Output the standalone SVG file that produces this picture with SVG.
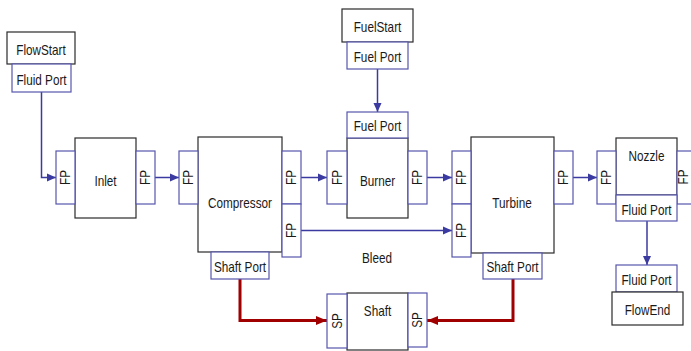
<svg xmlns="http://www.w3.org/2000/svg" width="691" height="351" viewBox="0 0 691 351">
<defs>
<style>
.box{fill:#fff;stroke:#2a2a2a;stroke-width:1.2}
.port{fill:#fff;stroke:#5656ae;stroke-width:1.2}
text{font-family:"Liberation Sans",Arial,sans-serif;font-size:14px;fill:#1a1a1a;text-anchor:middle}
.fp{dominant-baseline:central}
.flow{fill:none;stroke:#3a3aa0;stroke-width:1.5}
.shaft{fill:none;stroke:#a00000;stroke-width:3}
</style>
<marker id="ab" markerUnits="userSpaceOnUse" markerWidth="10" markerHeight="10" refX="9" refY="5" orient="auto">
<path d="M0,1 L9,5 L0,9 Z" fill="#3a3aa0"/>
</marker>
<marker id="ar" markerUnits="userSpaceOnUse" markerWidth="12" markerHeight="12" refX="11" refY="6" orient="auto">
<path d="M0,1.5 L11,6 L0,10.5 Z" fill="#a00000"/>
</marker>
</defs>
<rect width="691" height="351" fill="#fff"/>

<g id="connectors">
<path class="flow" d="M41.5,92 V177.5 H56" marker-end="url(#ab)"/>
<path class="flow" d="M155,177.5 H179" marker-end="url(#ab)"/>
<path class="flow" d="M301,177.5 H327" marker-end="url(#ab)"/>
<path class="flow" d="M301,230.5 H452" marker-end="url(#ab)"/>
<path class="flow" d="M427,177.5 H452" marker-end="url(#ab)"/>
<path class="flow" d="M573,177.5 H597" marker-end="url(#ab)"/>
<path class="flow" d="M377.5,69 V112" marker-end="url(#ab)"/>
<path class="flow" d="M647,221 V265" marker-end="url(#ab)"/>
<path class="shaft" d="M240,279 V320.5 H327" marker-end="url(#ar)"/>
<path class="shaft" d="M513,279 V320.5 H427" marker-end="url(#ar)"/>
<text transform="translate(377,262.5) scale(0.84,1)">Bleed</text>
</g>

<g id="FlowStart">
<rect class="box" x="7" y="32" width="68" height="32"/>
<text transform="translate(41,54.5) scale(0.84,1)">FlowStart</text>
<rect class="port" x="12" y="64" width="59" height="28"/>
<text transform="translate(41.5,84.5) scale(0.84,1)">Fluid Port</text>
</g>

<g id="Inlet">
<rect class="box" x="75" y="138" width="61" height="80"/>
<text transform="translate(105.5,185.5) scale(0.84,1)">Inlet</text>
<rect class="port" x="56" y="151" width="19" height="53"/>
<text class="fp" transform="translate(65.5,177.5) rotate(-90) scale(0.84,1)">FP</text>
<rect class="port" x="136" y="151" width="19" height="53"/>
<text class="fp" transform="translate(145.5,177.5) rotate(-90) scale(0.84,1)">FP</text>
</g>

<g id="Compressor">
<rect class="box" x="198" y="137" width="84" height="115"/>
<text transform="translate(240,208.3) scale(0.84,1)">Compressor</text>
<rect class="port" x="179" y="151" width="19" height="53"/>
<text class="fp" transform="translate(188.5,177.5) rotate(-90) scale(0.84,1)">FP</text>
<rect class="port" x="282" y="151" width="19" height="53"/>
<text class="fp" transform="translate(291.5,177.5) rotate(-90) scale(0.84,1)">FP</text>
<rect class="port" x="282" y="204" width="19" height="53"/>
<text class="fp" transform="translate(291.5,230.5) rotate(-90) scale(0.84,1)">FP</text>
<rect class="port" x="211" y="252" width="58" height="27"/>
<text transform="translate(240,271.5) scale(0.84,1)">Shaft Port</text>
</g>

<g id="FuelStart">
<rect class="box" x="342" y="9" width="71" height="33"/>
<text transform="translate(377.5,31.5) scale(0.84,1)">FuelStart</text>
<rect class="port" x="347" y="42" width="61" height="27"/>
<text transform="translate(377.5,61.5) scale(0.84,1)">Fuel Port</text>
</g>

<g id="Burner">
<rect class="box" x="347" y="138" width="61" height="80"/>
<text transform="translate(377.5,185.5) scale(0.84,1)">Burner</text>
<rect class="port" x="347" y="112" width="61" height="26"/>
<text transform="translate(377.5,131) scale(0.84,1)">Fuel Port</text>
<rect class="port" x="327" y="151" width="20" height="53"/>
<text class="fp" transform="translate(337,177.5) rotate(-90) scale(0.84,1)">FP</text>
<rect class="port" x="408" y="151" width="19" height="53"/>
<text class="fp" transform="translate(417.5,177.5) rotate(-90) scale(0.84,1)">FP</text>
</g>

<g id="Turbine">
<rect class="box" x="471" y="137" width="83" height="116"/>
<text transform="translate(512,207.5) scale(0.84,1)">Turbine</text>
<rect class="port" x="452" y="151" width="19" height="53"/>
<text class="fp" transform="translate(461.5,177.5) rotate(-90) scale(0.84,1)">FP</text>
<rect class="port" x="452" y="204" width="19" height="53"/>
<text class="fp" transform="translate(461.5,230.5) rotate(-90) scale(0.84,1)">FP</text>
<rect class="port" x="554" y="151" width="19" height="53"/>
<text class="fp" transform="translate(563.5,177.5) rotate(-90) scale(0.84,1)">FP</text>
<rect class="port" x="483" y="253" width="59" height="26"/>
<text transform="translate(512.5,271.5) scale(0.84,1)">Shaft Port</text>
</g>

<g id="Nozzle">
<rect class="box" x="616" y="138" width="61" height="57"/>
<text transform="translate(646.5,160.5) scale(0.84,1)">Nozzle</text>
<rect class="port" x="597" y="151" width="19" height="53"/>
<text class="fp" transform="translate(606.5,177.5) rotate(-90) scale(0.84,1)">FP</text>
<rect class="port" x="677" y="151" width="19" height="53"/>
<text class="fp" transform="translate(683.5,177) rotate(-90) scale(0.84,1)">FP</text>
<rect class="port" x="616" y="195" width="61" height="26"/>
<text transform="translate(646.5,214.5) scale(0.84,1)">Fluid Port</text>
</g>

<g id="FlowEnd">
<rect class="port" x="616" y="265" width="61" height="27"/>
<text transform="translate(646.5,284.5) scale(0.84,1)">Fluid Port</text>
<rect class="box" x="612" y="292" width="71" height="33"/>
<text transform="translate(647.5,315) scale(0.84,1)">FlowEnd</text>
</g>

<g id="Shaft">
<rect class="box" x="347" y="293" width="61" height="57"/>
<text transform="translate(377.5,315.5) scale(0.84,1)">Shaft</text>
<rect class="port" x="327" y="294" width="20" height="54"/>
<text class="fp" transform="translate(337,321) rotate(-90) scale(0.84,1)">SP</text>
<rect class="port" x="408" y="293" width="19" height="54"/>
<text class="fp" transform="translate(417.5,320) rotate(-90) scale(0.84,1)">SP</text>
</g>
</svg>
